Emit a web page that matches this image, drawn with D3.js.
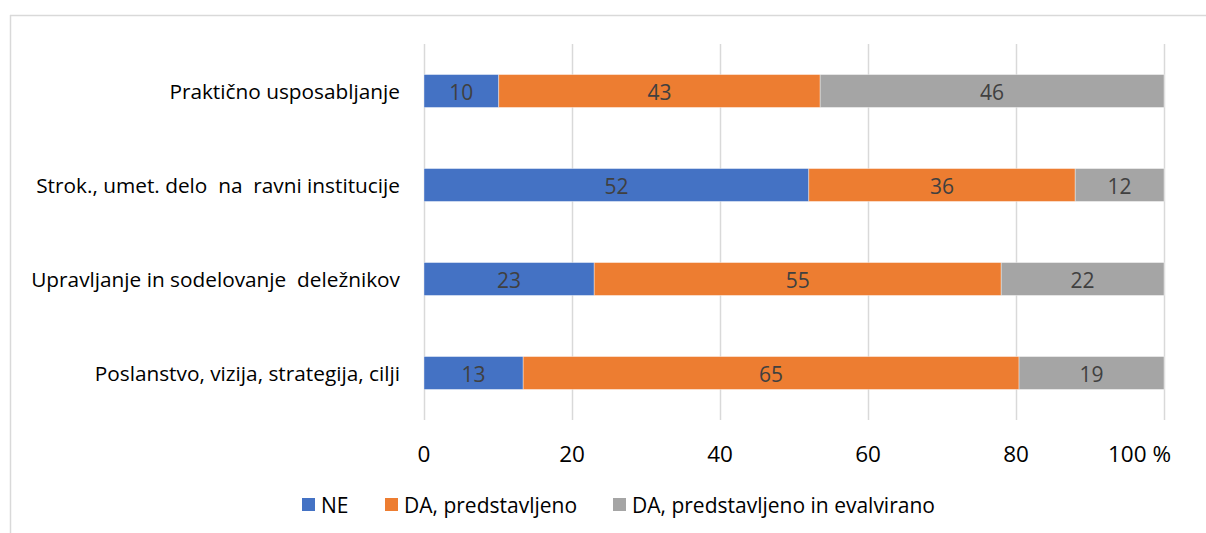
<!DOCTYPE html>
<html>
<head>
<meta charset="utf-8">
<script src="https://cdn.jsdelivr.net/npm/d3@7"></script>
<style>
  html, body { margin: 0; padding: 0; background: #fff; }
  svg text { font-family: "Open Sans", Lato, sans-serif; white-space: pre; }
</style>
</head>
<body>
<svg id="chart" width="1206" height="533"></svg>
<script>
// Categories, top to bottom
const categories = [
  "Praktično usposabljanje",
  "Strok., umet. delo  na  ravni institucije",
  "Upravljanje in sodelovanje  deležnikov",
  "Poslanstvo, vizija, strategija, cilji"
];
const seriesNames = ["NE", "DA, predstavljeno", "DA, predstavljeno in evalvirano"];
const ne        = [10, 52, 23, 13];
const daPred    = [43, 36, 55, 65];
const daPredEval = [46, 12, 22, 19];
const tickValues = [0, 20, 40, 60, 80, 100];
const colors = ["#4472C4", "#ED7D31", "#A5A5A5"];

const rows = categories.map((c, i) => ({
  cat: c,
  [seriesNames[0]]: ne[i],
  [seriesNames[1]]: daPred[i],
  [seriesNames[2]]: daPredEval[i]
}));

const svg = d3.select("#chart");

// outer frame (top and left edges visible)
svg.append("line").attr("x1", 10).attr("y1", 15.5).attr("x2", 1206).attr("y2", 15.5)
  .attr("stroke", "#d9d9d9").attr("stroke-width", 1.5);
svg.append("line").attr("x1", 10.5).attr("y1", 15).attr("x2", 10.5).attr("y2", 533)
  .attr("stroke", "#d9d9d9").attr("stroke-width", 1.5);

const x = d3.scaleLinear().domain([0, 1]).range([424, 1164]);
const y = d3.scaleBand().domain(categories).range([44, 420])
  .paddingInner(0.65).paddingOuter(0.325);

// gridlines
svg.append("g").selectAll("line").data(tickValues).join("line")
  .attr("x1", d => Math.round(x(d / 100)) + 0.5)
  .attr("x2", d => Math.round(x(d / 100)) + 0.5)
  .attr("y1", 44).attr("y2", 420)
  .attr("stroke", "#d9d9d9").attr("stroke-width", 1.5);

// tick labels
svg.append("g").selectAll("text").data(tickValues).join("text")
  .attr("x", d => d === 100 ? x(1) + 7 : x(d / 100))
  .attr("y", 453)
  .attr("text-anchor", d => d === 100 ? "end" : "middle")
  .attr("dominant-baseline", "central")
  .attr("font-size", 22.5)
  .attr("fill", "#000")
  .text(d => d === 100 ? "100 %" : d);

// stacked, normalised to 100 %
const stack = d3.stack().keys(seriesNames).offset(d3.stackOffsetExpand);
const layers = stack(rows);

const g = svg.append("g");
layers.forEach((layer, li) => {
  const lg = g.append("g");
  lg.selectAll("rect").data(layer).join("rect")
    .attr("x", d => x(d[0]))
    .attr("width", d => x(d[1]) - x(d[0]))
    .attr("y", d => y(d.data.cat))
    .attr("height", y.bandwidth())
    .attr("fill", colors[li])
    .attr("stroke", "#fff").attr("stroke-opacity", 0.5).attr("stroke-width", 0.75);
  lg.selectAll("text").data(layer).join("text")
    .attr("x", d => (x(d[0]) + x(d[1])) / 2)
    .attr("y", d => y(d.data.cat) + y.bandwidth() / 2 + 1)
    .attr("text-anchor", "middle")
    .attr("dominant-baseline", "central")
    .attr("font-size", 21)
    .attr("fill", "#404040")
    .text(d => d.data[layer.key]);
});

// category labels
svg.append("g").selectAll("text").data(categories).join("text")
  .attr("x", 400)
  .attr("y", d => y(d) + y.bandwidth() / 2)
  .attr("text-anchor", "end")
  .attr("dominant-baseline", "central")
  .attr("font-size", 20.8)
  .attr("fill", "#000")
  .text(d => d);

// legend
const legendX = [302, 385, 613];
const lg = svg.append("g");
seriesNames.forEach((s, i) => {
  lg.append("rect").attr("x", legendX[i]).attr("y", 498).attr("width", 13).attr("height", 13)
    .attr("fill", colors[i]);
  lg.append("text").attr("x", legendX[i] + 19).attr("y", 505)
    .attr("dominant-baseline", "central")
    .attr("font-size", 21).attr("fill", "#000").text(s);
});
</script>
</body>
</html>
